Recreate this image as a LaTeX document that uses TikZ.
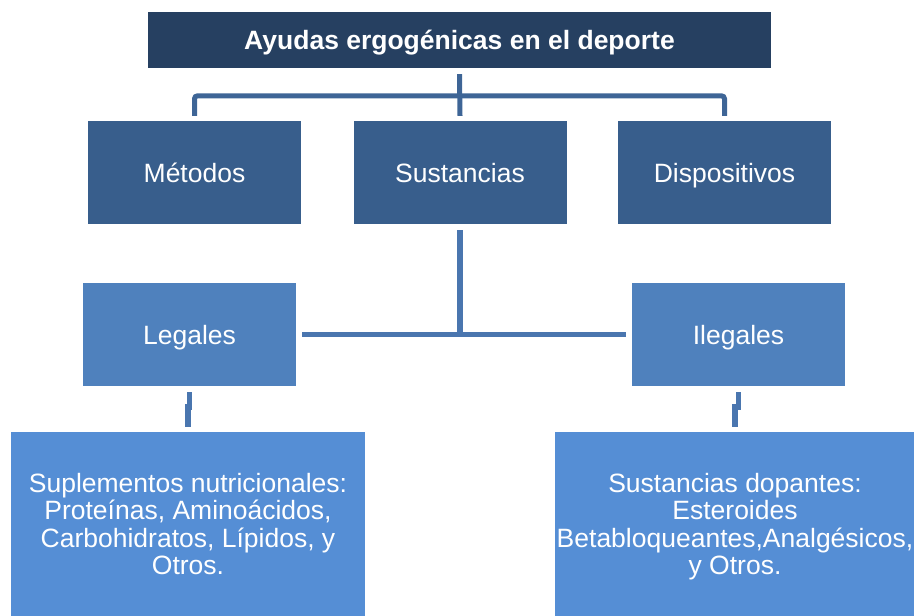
\documentclass[tikz,border=0pt]{standalone}
\usepackage{fontspec}
\setmainfont{Liberation Sans}
\usepackage{tikz}
\definecolor{azulosc}{RGB}{38,64,97}
\definecolor{azulmed}{RGB}{56,94,140}
\definecolor{azulleg}{RGB}{79,129,189}
\definecolor{azulcla}{RGB}{85,142,213}
\definecolor{lineasup}{RGB}{62,101,150}
\definecolor{lineainf}{RGB}{74,118,175}

\begin{document}
\begin{tikzpicture}[
	x=1pt, y=-1pt,
	caja/.style={fill=#1, text=white, inner sep=0pt, align=center,
		font=\fontsize{26.5}{27.5}\selectfont},
	nivel2/.style={caja=azulmed, minimum width=213pt, minimum height=103pt,
		text height=19pt, text depth=0pt},
	nivel3/.style={caja=azulleg, minimum width=213pt, minimum height=103pt,
		text height=19pt, text depth=0pt},
	nivel4/.style={caja=azulcla, minimum height=184pt, text depth=0pt},
	consup/.style={draw=lineasup, line width=5pt, rounded corners=3pt},
	coninf/.style={draw=lineainf, line width=5.5pt}]
\useasboundingbox (0,0) rectangle (914,616);
\node[caja=azulosc, minimum width=623pt, minimum height=56pt, text height=19pt, text depth=0pt,
	font=\bfseries\fontsize{26.5}{27.5}\selectfont] (titulo) at (459.5,40) {Ayudas ergogénicas en el deporte};
\node[nivel2] (metodos) at (194.5,172.5) {Métodos};
\node[nivel2] (sustancias) at (460,172.5) {Sustancias};
\node[nivel2] (dispositivos) at (724.5,172.5) {Dispositivos};
\node[nivel3] (legales) at (189.5,334.5) {Legales};
\node[nivel3] (ilegales) at (738.5,334.5) {Ilegales};
\node[nivel4, minimum width=354pt] (suplementos) at (188,524) {Suplementos nutricionales:\\Proteínas, Aminoácidos,\\Carbohidratos, Lípidos, y\\Otros.};
\node[nivel4, minimum width=360pt] (dopantes) at (735,524) {Sustancias dopantes:\\Esteroides\\Betabloqueantes,Analgésicos,\\y Otros.};

\draw[consup] ([yshift=5pt]metodos.north) -- ++(0,-20) -| ([yshift=5pt]dispositivos.north);
\draw[consup] ([yshift=-6pt]titulo.south) -- ([yshift=5pt]sustancias.north);
\draw[coninf] ([yshift=-6pt]sustancias.south) -- (sustancias.south |- legales.east);
\draw[coninf] ([xshift=6pt]legales.east) -- ([xshift=-6pt]ilegales.west);
\draw[coninf] ([yshift=-6pt]legales.south) -- ++(0,15) -| ([yshift=5pt]suplementos.north);
\draw[coninf] ([yshift=-6pt]ilegales.south) -- ++(0,15) -| ([yshift=5pt]dopantes.north);
\end{tikzpicture}
\end{document}
